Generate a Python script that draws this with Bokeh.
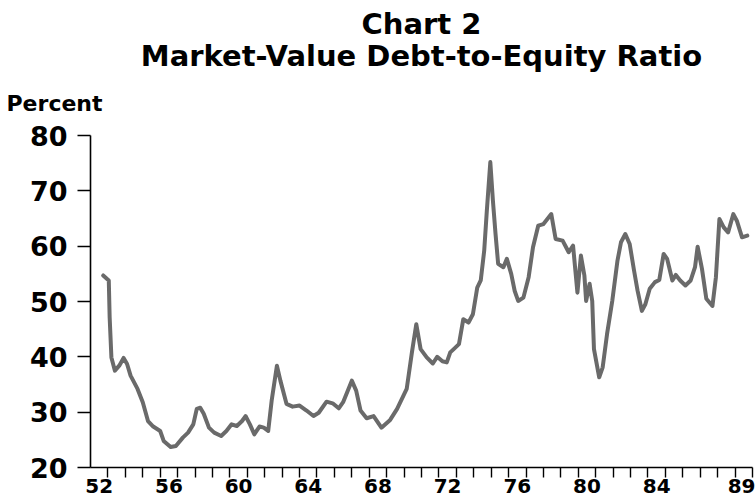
from bokeh.plotting import figure
from bokeh.models import Range1d, FixedTicker, Title
from bokeh.embed import file_html
from bokeh.resources import INLINE

# ---- data ----
years = [1952.73, 1953.05, 1953.1, 1953.2, 1953.4, 1953.65, 1953.9, 1954.1, 1954.3, 1954.7,
         1955.0, 1955.3, 1955.6, 1956.0, 1956.2, 1956.6, 1956.9, 1957.3, 1957.6, 1957.9,
         1958.1, 1958.3, 1958.5, 1958.8, 1959.1, 1959.5, 1959.8, 1960.1, 1960.4, 1960.7,
         1960.9, 1961.15, 1961.4, 1961.7, 1961.95, 1962.2, 1962.4, 1962.7, 1962.9, 1963.25,
         1963.6, 1964.0, 1964.4, 1964.8, 1965.1, 1965.55, 1965.9, 1966.25, 1966.5, 1967.0,
         1967.25, 1967.5, 1967.85, 1968.25, 1968.7, 1969.2, 1969.6, 1970.15, 1970.45, 1970.7,
         1970.95, 1971.3, 1971.65, 1971.9, 1972.2, 1972.45, 1972.65, 1972.85, 1973.15, 1973.4,
         1973.7, 1973.95, 1974.2, 1974.4, 1974.6, 1974.75, 1974.95, 1975.1, 1975.25, 1975.4,
         1975.7, 1975.9, 1976.15, 1976.35, 1976.55, 1976.85, 1977.15, 1977.4, 1977.7, 1978.0,
         1978.45, 1978.7, 1979.1, 1979.3, 1979.45, 1979.7, 1979.95, 1980.15, 1980.35, 1980.45,
         1980.65, 1980.8, 1980.9, 1981.2, 1981.4, 1981.65, 1981.95, 1982.25, 1982.45, 1982.7,
         1982.95, 1983.2, 1983.4, 1983.65, 1983.85, 1984.1, 1984.4, 1984.65, 1984.9, 1985.1,
         1985.4, 1985.6, 1985.85, 1986.15, 1986.45, 1986.7, 1986.85, 1987.1, 1987.35, 1987.7,
         1987.9, 1988.1, 1988.35, 1988.6, 1988.9, 1989.1, 1989.4, 1989.7]

ratio = [54.7, 53.8, 47.1, 39.9, 37.5, 38.4, 39.8, 38.7, 36.6, 34.2,
         31.8, 28.4, 27.4, 26.6, 24.8, 23.7, 23.9, 25.4, 26.3, 27.8,
         30.6, 30.8, 29.7, 27.2, 26.3, 25.7, 26.6, 27.8, 27.5, 28.4,
         29.3, 27.8, 26.0, 27.4, 27.2, 26.6, 32.1, 38.4, 35.7, 31.5,
         31.0, 31.2, 30.3, 29.3, 29.9, 31.9, 31.6, 30.7, 31.8, 35.7,
         33.9, 30.3, 28.9, 29.3, 27.2, 28.6, 30.6, 34.2, 40.8, 45.9,
         41.4, 39.9, 38.8, 40.0, 39.2, 39.0, 40.8, 41.4, 42.3, 46.8,
         46.2, 47.7, 52.5, 53.8, 59.2, 66.4, 75.2, 68.2, 62.2, 56.8,
         56.2, 57.7, 55.0, 51.9, 50.1, 50.7, 54.4, 59.8, 63.7, 64.0,
         65.8, 61.3, 61.0, 59.8, 58.9, 60.1, 51.6, 58.3, 54.7, 50.1,
         53.2, 50.1, 41.4, 36.3, 38.1, 44.1, 50.1, 57.4, 60.7, 62.2,
         60.4, 55.6, 52.0, 48.3, 49.5, 52.3, 53.5, 53.9, 58.6, 57.7,
         53.8, 54.8, 53.8, 52.9, 53.8, 56.2, 59.9, 55.9, 50.5, 49.2,
         54.4, 64.9, 63.4, 62.5, 65.8, 64.6, 61.6, 61.9]

y_ticks = [20, 30, 40, 50, 60, 70, 80]
x_label_years = [52, 56, 60, 64, 68, 72, 76, 80, 84, 89]
year_start, year_end = 1952, 1990

title_line1 = "Chart 2"
title_line2 = "Market-Value Debt-to-Equity Ratio"
unit_label = "Percent"

FONT = "DejaVu Sans"

p = figure(width=755, height=504, title=None,
           x_range=Range1d(year_start, year_end), y_range=Range1d(20, 80),
           output_backend="svg", toolbar_location=None,
           min_border_left=90, min_border_right=3, min_border_top=135, min_border_bottom=37)

p.outline_line_color = None
p.xgrid.visible = False
p.ygrid.visible = False
p.background_fill_color = "white"
p.border_fill_color = "white"

p.line(years, ratio, line_color="#6a6a6a", line_width=4, line_join="round", line_cap="round")

# y axis
ya = p.yaxis[0]
ya.ticker = FixedTicker(ticks=y_ticks, minor_ticks=[])
ya.axis_line_color = "black"
ya.axis_line_width = 1.6
ya.major_tick_line_color = "black"
ya.major_tick_line_width = 1.6
ya.major_tick_out = 13
ya.major_tick_in = 0
ya.minor_tick_line_color = None
ya.major_label_standoff = 10
ya.major_label_text_font = FONT
ya.major_label_text_font_style = "bold"
ya.major_label_text_font_size = "27px"
ya.major_label_text_color = "black"

# x axis: labels centred in year intervals, small ticks at year boundaries
label_pos = [1900 + y + 0.5 for y in x_label_years]
xa = p.xaxis[0]
xa.ticker = FixedTicker(ticks=label_pos,
                        minor_ticks=list(range(year_start + 1, year_end + 1)))
xa.major_label_overrides = {pos: str(y) for pos, y in zip(label_pos, x_label_years)}
xa.axis_line_color = "black"
xa.axis_line_width = 1.6
xa.major_tick_line_color = None
xa.major_tick_out = 0
xa.major_tick_in = 0
xa.minor_tick_line_color = "black"
xa.minor_tick_line_width = 1.4
xa.minor_tick_out = 10
xa.minor_tick_in = 0
xa.major_label_standoff = 1
xa.major_label_text_font = FONT
xa.major_label_text_font_style = "bold"
xa.major_label_text_font_size = "20px"
xa.major_label_text_color = "black"

# titles (first added sits nearest to the frame)
for txt, size, align, offset, standoff in [(unit_label, "22px", "left", -84, 39),
                                           (title_line2, "29px", "center", -3, -7),
                                           (title_line1, "29px", "center", -2, -1)]:
    p.add_layout(Title(text=txt, text_font=FONT, text_font_style="bold",
                       text_font_size=size, text_color="black", align=align,
                       offset=offset, standoff=standoff), "above")

open("out.html", "w").write(file_html(p, INLINE))
